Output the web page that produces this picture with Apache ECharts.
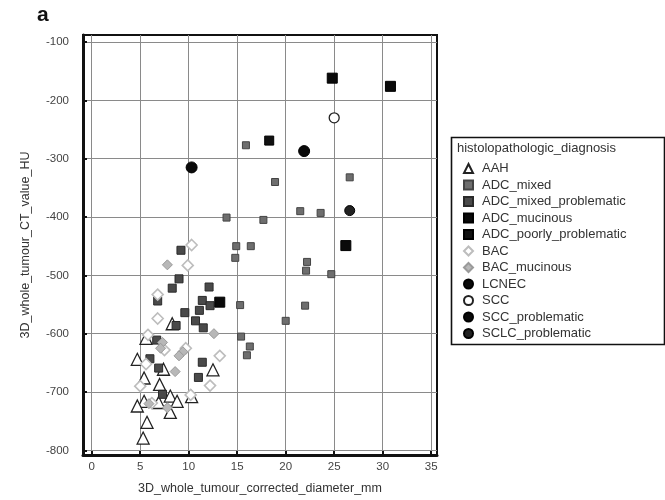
<!DOCTYPE html>
<html>
<head>
<meta charset="utf-8">
<script src="https://cdn.jsdelivr.net/npm/echarts@6/dist/echarts.min.js"></script>
<style>
  html, body { margin: 0; padding: 0; background: #fff; }
  #chart { width: 665px; height: 500px; }
</style>
</head>
<body>
<div id="chart"></div>
<script>
  // tick labels
  const xTicks = [0, 5, 10, 15, 20, 25, 30, 35]
  const yTicks = [-800, -700, -600, -500, -400, -300, -200, -100]

  // [diameter mm, CT value HU] per diagnosis
  const aah = [[5.6, -608], [4.7, -644], [7.4, -661], [12.5, -662], [5.4, -676], [7.0, -687], [10.3, -708],
    [8.1, -707], [8.8, -716], [6.9, -718], [5.4, -716], [4.7, -724], [8.1, -735], [5.7, -752], [5.3, -779], [8.3, -583]]
  const adcMixed = [[15.9, -277], [26.6, -332], [18.9, -340], [21.5, -390], [23.6, -393], [13.9, -401], [17.7, -405],
    [14.9, -450], [16.4, -450], [14.8, -470], [22.2, -477], [22.1, -492], [24.7, -498], [22.0, -552], [20.0, -578],
    [15.3, -551], [15.4, -605], [16.3, -622], [16.0, -637]]
  const adcMixedProb = [[9.2, -457], [9.0, -506], [8.3, -522], [12.1, -520], [11.4, -543], [12.2, -552], [6.8, -544],
    [11.1, -560], [9.6, -564], [10.7, -578], [8.7, -586], [11.5, -590], [6.7, -611], [6.0, -643], [6.9, -659],
    [11.4, -649], [11.0, -675], [7.3, -704]]
  const adcMucinous = [[24.8, -162], [30.8, -176], [26.2, -449], [13.2, -546]]
  const adcPoorlyProb = [[18.3, -269]]
  const bac = [[10.3, -448], [9.9, -483], [6.8, -533], [6.8, -574], [5.8, -602], [7.5, -628], [9.7, -625],
    [13.2, -638], [5.6, -652], [12.2, -689], [10.2, -705], [5.0, -690], [6.2, -719]]
  const bacMucinous = [[7.8, -482], [12.6, -600], [7.3, -615], [7.1, -625], [9.4, -631], [9.0, -638], [8.6, -665],
    [5.9, -720], [7.8, -727]]
  const lcnec = [[10.3, -315]]
  const scc = [[25.0, -230]]
  const sccProb = [[21.9, -287]]
  const sclcProb = [[26.6, -389]]

  const chart = echarts.init(document.getElementById('chart'))

  function scatter(name, data, symbol, size, fill, stroke, lw) {
    return {
      name: name,
      type: 'scatter',
      data: data,
      symbol: symbol,
      symbolSize: size,
      itemStyle: { color: fill, borderColor: stroke, borderWidth: lw, opacity: 1 },
      emphasis: { disabled: true }
    }
  }

  const font = 'Liberation Sans, Arial, sans-serif'

  chart.setOption({
    animation: false,
    backgroundColor: '#fff',
    textStyle: { fontFamily: font },
    grid: {
      left: 83, right: 228, top: 35, bottom: 40,
      show: true,
      borderColor: '#111',
      borderWidth: 2
    },
    xAxis: {
      type: 'value',
      min: -0.9,
      max: 35.6,
      name: '3D_whole_tumour_corrected_diameter_mm',
      nameLocation: 'middle',
      nameGap: 27,
      nameTextStyle: { fontSize: 12.5, color: '#333' },
      axisLine: { onZero: false, lineStyle: { color: '#111', width: 3 } },
      axisTick: { inside: true, length: 4, customValues: xTicks, lineStyle: { color: '#111', width: 2 } },
      axisLabel: { customValues: xTicks, fontSize: 11.5, color: '#444', margin: 6 },
      splitLine: { lineStyle: { color: '#8a8a8a', width: 1 } }
    },
    yAxis: {
      type: 'value',
      min: -808,
      max: -88,
      name: '3D_whole_tumour_CT_value_HU',
      nameLocation: 'middle',
      nameGap: 51,
      nameTextStyle: { fontSize: 12.5, color: '#333' },
      axisLine: { onZero: false, lineStyle: { color: '#111', width: 3 } },
      axisTick: { inside: true, length: 4, customValues: yTicks, lineStyle: { color: '#111', width: 2 } },
      axisLabel: { customValues: yTicks, fontSize: 11.5, color: '#444', margin: 14 },
      splitLine: { lineStyle: { color: '#8a8a8a', width: 1 } }
    },
    legend: {
      orient: 'vertical',
      left: 458,
      top: 157,
      itemWidth: 9,
      itemHeight: 9,
      itemGap: 3.5,
      textStyle: { fontSize: 13, color: '#333', lineHeight: 13, padding: [0, 0, 0, 4] },
      selectedMode: false
    },
    graphic: [
      {
        type: 'text', left: 37, top: 5,
        style: { text: 'a', font: 'bold 21px Liberation Sans, Arial, sans-serif', fill: '#111' }
      },
      {
        type: 'rect', left: 449, top: 135,
        shape: { width: 213, height: 207 },
        style: { fill: 'none', stroke: '#111', lineWidth: 1.6 }
      },
      {
        type: 'text', left: 457, top: 142,
        style: { text: 'histolopathologic_diagnosis', font: '13px Liberation Sans, Arial, sans-serif', fill: '#333' }
      }
    ],
    series: [
      scatter('AAH', aah, 'triangle', 12, '#fff', '#222', 1.3),
      scatter('ADC_mixed', adcMixed, 'rect', 7, '#6e6e6e', '#444', 1),
      scatter('ADC_mixed_problematic', adcMixedProb, 'rect', 8, '#4a4a4a', '#2a2a2a', 1),
      scatter('ADC_mucinous', adcMucinous, 'rect', 10, '#0a0a0a', '#000', 1),
      scatter('ADC_poorly_problematic', adcPoorlyProb, 'rect', 9, '#111', '#000', 1),
      scatter('BAC', bac, 'diamond', 11, '#fff', '#bdbdbd', 1.6),
      scatter('BAC_mucinous', bacMucinous, 'diamond', 10, '#b8b8b8', '#9a9a9a', 1),
      scatter('LCNEC', lcnec, 'circle', 11, '#0a0a0a', '#000', 1),
      scatter('SCC', scc, 'circle', 10, '#fff', '#222', 1.3),
      scatter('SCC_problematic', sccProb, 'circle', 11, '#0a0a0a', '#000', 1),
      scatter('SCLC_problematic', sclcProb, 'circle', 10, '#222', '#000', 1)
    ]
  })
</script>
</body>
</html>
